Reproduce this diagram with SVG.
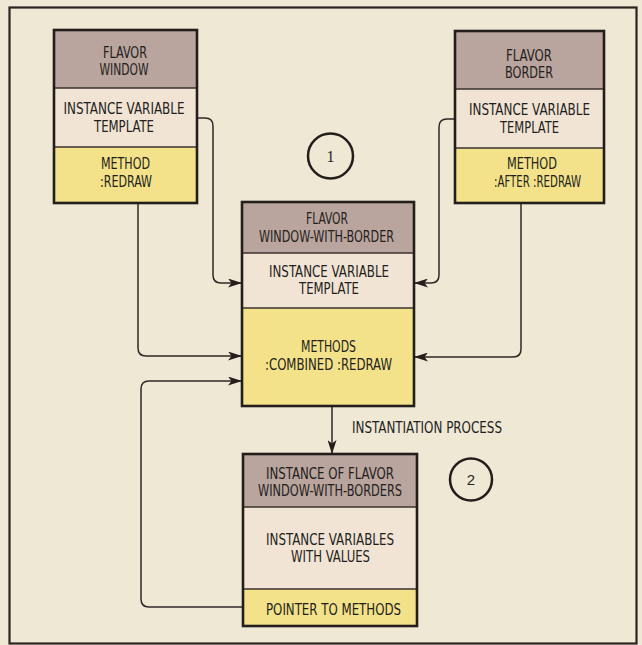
<svg xmlns="http://www.w3.org/2000/svg" width="642" height="645" viewBox="0 0 642 645">
<defs>
<style>
.bg{fill:#eee8d5}
.frame{fill:none;stroke:#2a2420;stroke-width:2.2}
.hdr{fill:#b9a49e}
.ivt{fill:#f1e4d5}
.mth{fill:#f3e28a}
.box{fill:none;stroke:#231e1b;stroke-width:2.6}
.div{stroke:#3a322d;stroke-width:1.4}
.t{font-family:"Liberation Sans Narrow","DejaVu Sans Condensed","Liberation Sans",sans-serif;font-size:15.5px;fill:#231e1b;text-anchor:middle}
.lbl{text-anchor:start}
.con{fill:none;stroke:#2f2925;stroke-width:1.5}
.circ{fill:none;stroke:#231e1b;stroke-width:2.5}
.num{font-family:"Liberation Serif","DejaVu Serif",serif;font-size:16px;fill:#2b2522;text-anchor:middle}
.num2{font-family:"Liberation Sans Narrow","Liberation Sans",sans-serif;font-size:15px;fill:#2b2522;text-anchor:middle}
</style>
<marker id="ah" viewBox="0 0 14 9" refX="14" refY="4.5" markerWidth="14" markerHeight="9" orient="auto" markerUnits="userSpaceOnUse">
<path d="M0,0 L14,4.5 L0,9 L3.5,4.5 z" fill="#231e1b"/>
</marker>
</defs>
<rect class="bg" x="0" y="0" width="642" height="645"/>
<rect class="frame" x="9.5" y="7.5" width="627" height="636"/>

<g id="connectors">
<path class="con" d="M197,118 H205 Q213,118 213,126 V275 Q213,283 221,283 H242" marker-end="url(#ah)"/>
<path class="con" d="M455,119 H447 Q439,119 439,127 V275 Q439,283 431,283 H414" marker-end="url(#ah)"/>
<path class="con" d="M138,203 V348 Q138,356 146,356 H242" marker-end="url(#ah)"/>
<path class="con" d="M521,203 V349 Q521,357 513,357 H414" marker-end="url(#ah)"/>
<path class="con" d="M243,607 H149 Q141,607 141,599 V389 Q141,381 149,381 H242" marker-end="url(#ah)"/>
<path class="con" d="M332,406 V454" marker-end="url(#ah)"/>
<text class="t lbl" x="352" y="433" textLength="150" lengthAdjust="spacingAndGlyphs">INSTANTIATION PROCESS</text>
</g>

<g id="flavor-window">
<rect class="hdr" x="54" y="30" width="143" height="58"/>
<rect class="ivt" x="54" y="88" width="143" height="59"/>
<rect class="mth" x="54" y="147" width="143" height="56"/>
<line class="div" x1="54" y1="88" x2="197" y2="88"/>
<line class="div" x1="54" y1="147" x2="197" y2="147"/>
<rect class="box" x="54" y="30" width="143" height="173"/>
<text class="t" x="125" y="58" textLength="44" lengthAdjust="spacingAndGlyphs">FLAVOR</text>
<text class="t" x="124" y="75" textLength="49" lengthAdjust="spacingAndGlyphs">WINDOW</text>
<text class="t" x="124" y="114" textLength="121" lengthAdjust="spacingAndGlyphs">INSTANCE VARIABLE</text>
<text class="t" x="124" y="132" textLength="60" lengthAdjust="spacingAndGlyphs">TEMPLATE</text>
<text class="t" x="125.5" y="169" textLength="49" lengthAdjust="spacingAndGlyphs">METHOD</text>
<text class="t" x="126" y="187" textLength="52" lengthAdjust="spacingAndGlyphs">:REDRAW</text>
</g>

<g id="flavor-border">
<rect class="hdr" x="455" y="31" width="149" height="58"/>
<rect class="ivt" x="455" y="89" width="149" height="59"/>
<rect class="mth" x="455" y="148" width="149" height="55"/>
<line class="div" x1="455" y1="89" x2="604" y2="89"/>
<line class="div" x1="455" y1="148" x2="604" y2="148"/>
<rect class="box" x="455" y="31" width="149" height="172"/>
<text class="t" x="529" y="61" textLength="46" lengthAdjust="spacingAndGlyphs">FLAVOR</text>
<text class="t" x="529" y="78" textLength="48" lengthAdjust="spacingAndGlyphs">BORDER</text>
<text class="t" x="529.5" y="115" textLength="121" lengthAdjust="spacingAndGlyphs">INSTANCE VARIABLE</text>
<text class="t" x="529.5" y="133" textLength="59" lengthAdjust="spacingAndGlyphs">TEMPLATE</text>
<text class="t" x="532" y="169" textLength="50" lengthAdjust="spacingAndGlyphs">METHOD</text>
<text class="t" x="537.5" y="187" textLength="87" lengthAdjust="spacingAndGlyphs">:AFTER :REDRAW</text>
</g>

<g id="flavor-window-with-border">
<rect class="hdr" x="242" y="202" width="172" height="51"/>
<rect class="ivt" x="242" y="253" width="172" height="55"/>
<rect class="mth" x="242" y="308" width="172" height="98"/>
<line class="div" x1="242" y1="253" x2="414" y2="253"/>
<line class="div" x1="242" y1="308" x2="414" y2="308"/>
<rect class="box" x="242" y="202" width="172" height="204"/>
<text class="t" x="327" y="224" textLength="42" lengthAdjust="spacingAndGlyphs">FLAVOR</text>
<text class="t" x="326.5" y="242" textLength="135" lengthAdjust="spacingAndGlyphs">WINDOW-WITH-BORDER</text>
<text class="t" x="329" y="277" textLength="120" lengthAdjust="spacingAndGlyphs">INSTANCE VARIABLE</text>
<text class="t" x="329" y="294" textLength="60" lengthAdjust="spacingAndGlyphs">TEMPLATE</text>
<text class="t" x="328.5" y="352" textLength="55" lengthAdjust="spacingAndGlyphs">METHODS</text>
<text class="t" x="328.5" y="370" textLength="127" lengthAdjust="spacingAndGlyphs">:COMBINED :REDRAW</text>
</g>

<g id="instance">
<rect class="hdr" x="243" y="454" width="174" height="53"/>
<rect class="ivt" x="243" y="507" width="174" height="82"/>
<rect class="mth" x="243" y="589" width="174" height="37"/>
<line class="div" x1="243" y1="507" x2="417" y2="507"/>
<line class="div" x1="243" y1="589" x2="417" y2="589"/>
<rect class="box" x="243" y="454" width="174" height="172"/>
<text class="t" x="330" y="479" textLength="128" lengthAdjust="spacingAndGlyphs">INSTANCE OF FLAVOR</text>
<text class="t" x="330" y="496" textLength="144" lengthAdjust="spacingAndGlyphs">WINDOW-WITH-BORDERS</text>
<text class="t" x="330" y="545" textLength="128" lengthAdjust="spacingAndGlyphs">INSTANCE VARIABLES</text>
<text class="t" x="330.5" y="562" textLength="79" lengthAdjust="spacingAndGlyphs">WITH VALUES</text>
<text class="t" x="333.5" y="615" textLength="135" lengthAdjust="spacingAndGlyphs">POINTER TO METHODS</text>
</g>

<g id="step-1">
<circle class="circ" cx="330.5" cy="156" r="22.5"/>
<text class="num" x="330.5" y="162">1</text>
</g>

<g id="step-2">
<circle class="circ" cx="471" cy="479.5" r="21"/>
<text class="num2" x="471" y="485">2</text>
</g>
</svg>
